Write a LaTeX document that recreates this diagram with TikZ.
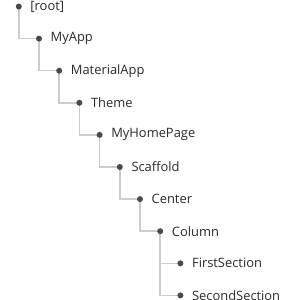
\documentclass[tikz,border=0pt]{standalone}
\usepackage{fontspec}
\setmainfont{Open Sans}
\usetikzlibrary{backgrounds}
\begin{document}
\begin{tikzpicture}[x=1pt,y=-1pt,
  dotnode/.style={circle,fill=dotgray,inner sep=0pt,minimum size=6pt},
  lbl/.style={anchor=west,inner sep=0pt,text=txtgray,font=\fontsize{12.9}{14}\selectfont},
  conn/.style={draw=linegray,line width=1.5pt}]
\definecolor{dotgray}{HTML}{4A4A4A}
\definecolor{txtgray}{HTML}{2A2A2A}
\definecolor{linegray}{HTML}{CCCCCC}
\useasboundingbox (0,0) rectangle (300,300);
\foreach \n/\t/\i/\d in {r/{[root]}/0/0, a/MyApp/1/1, b/MaterialApp/2/2, c/Theme/3/3, d/MyHomePage/4/4, e/Scaffold/5/5, f/Center/6/6, g/Column/7/7, h/FirstSection/8/8, k/SecondSection/9/8}{
  \node[dotnode] (\n) at ({18.8+20.2*\d},{6.5+32.1*\i}) {};
  \node[lbl] (\n t) at ({18.8+20.2*\d+11.5},{6.5+32.1*\i}) {\t};
}
\begin{scope}[on background layer]
\foreach \p/\c in {r/a, a/b, b/c, c/d, d/e, e/f, f/g, g/h, g/k}{
  \draw[conn] (\p.center) |- (\c.center);
}
\end{scope}
\end{tikzpicture}
\end{document}
